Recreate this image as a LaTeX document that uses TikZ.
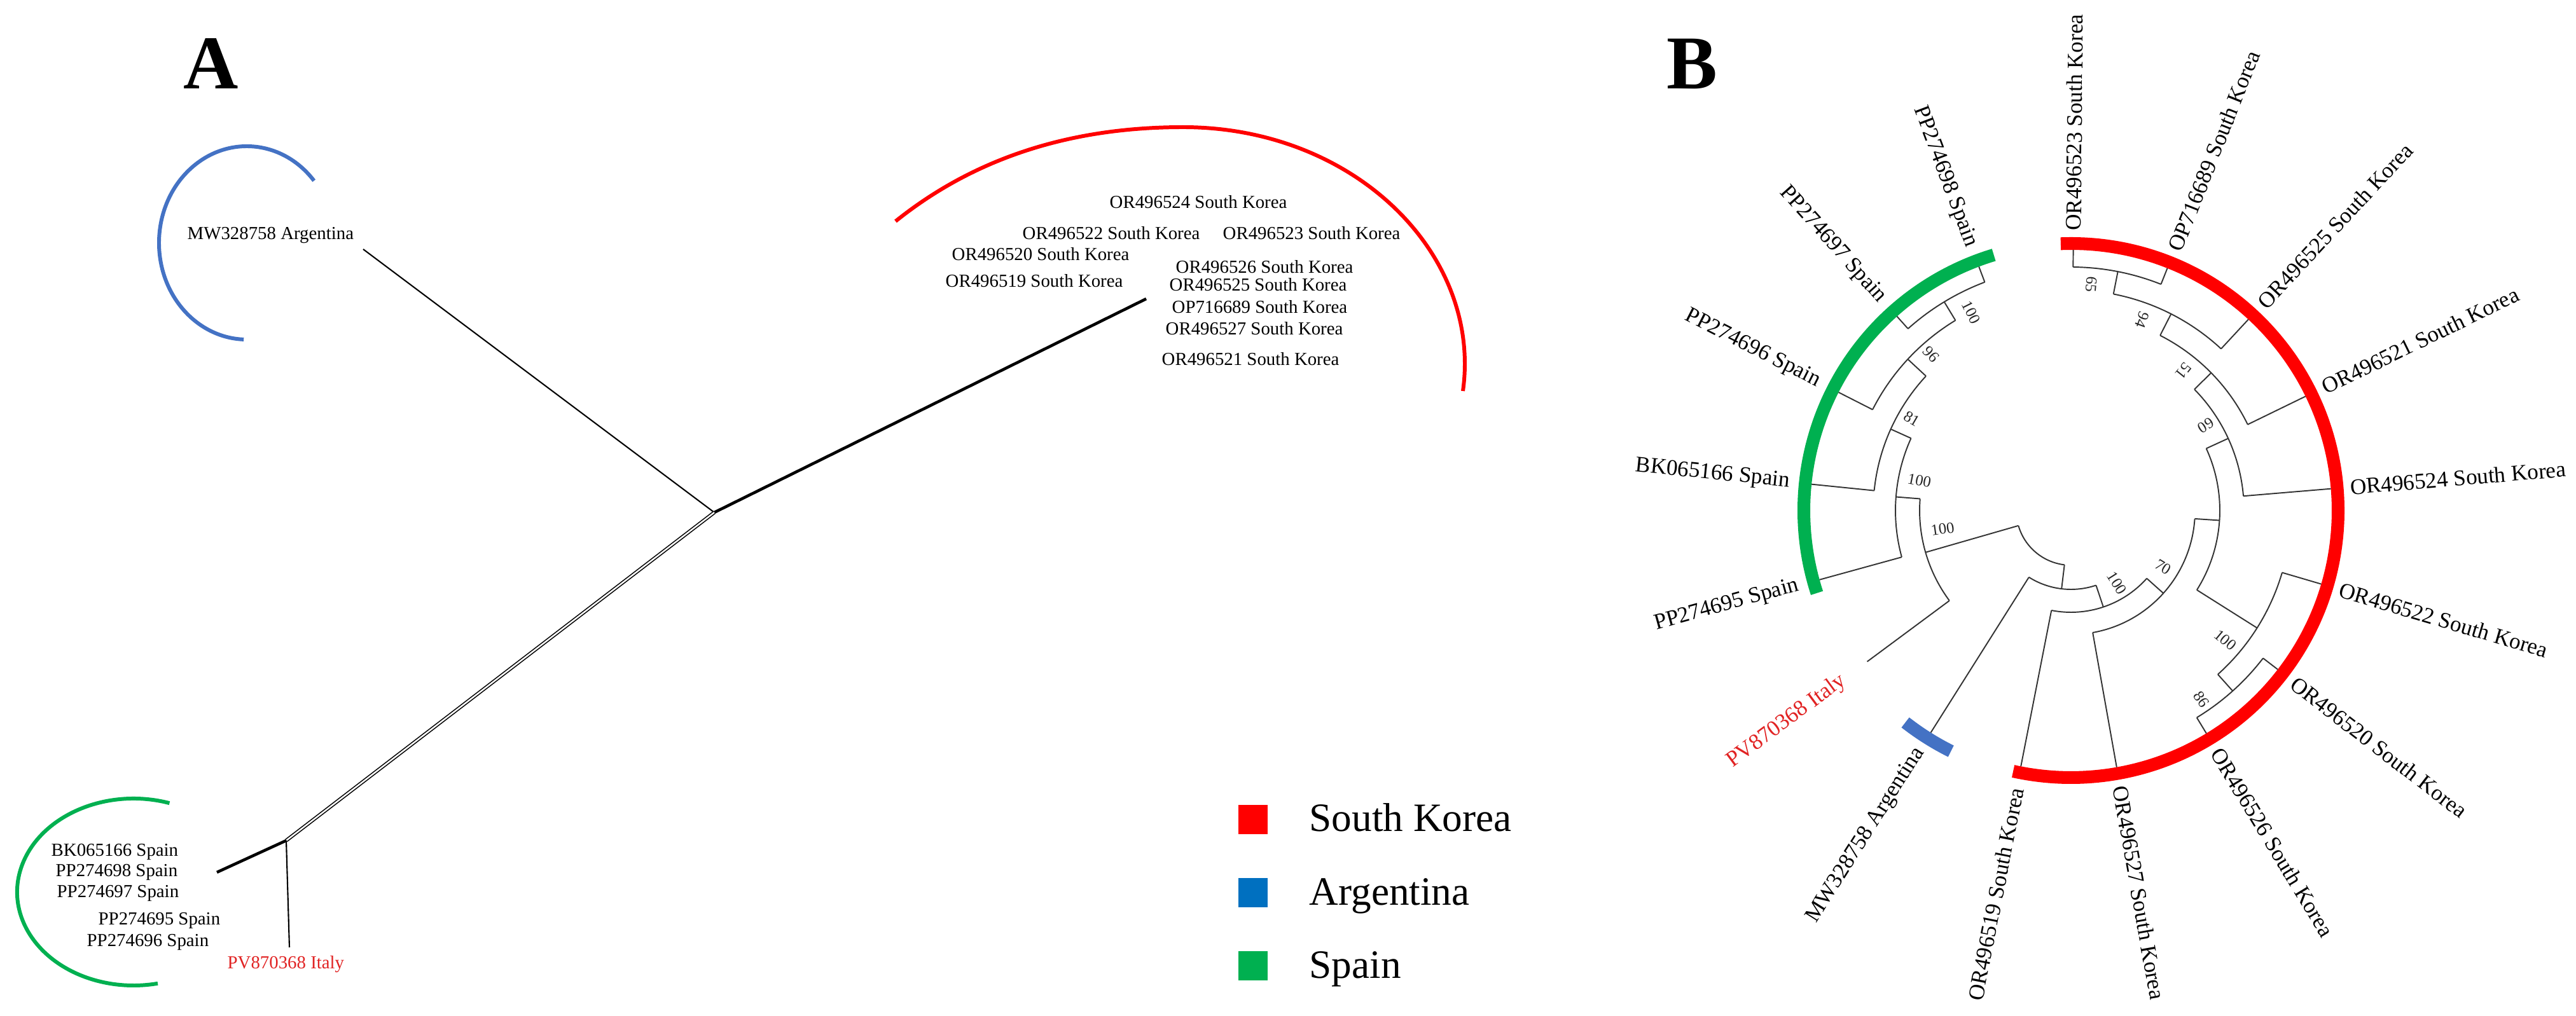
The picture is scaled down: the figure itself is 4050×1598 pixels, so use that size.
\documentclass[tikz,border=0pt]{standalone}
\usepackage{fontspec}
\setmainfont{Liberation Serif}
\definecolor{skred}{RGB}{255,0,0}
\definecolor{arblue}{RGB}{68,114,196}
\definecolor{legblue}{RGB}{0,112,192}
\definecolor{spgreen}{RGB}{0,176,80}
\definecolor{itred}{RGB}{225,35,35}
\newcommand{\joinnode}[5]{%
  \draw[branch] (#2:#1) -- (#3);
  \draw[branch] (#4:#1) -- (#5);
  \draw[branch] (#2:#1) arc[start angle=#2, end angle=#4, radius=#1];
}
\begin{document}
\begin{tikzpicture}[x=0.01cm,y=0.01cm,
  lblA/.style={font=\fontsize{8.2}{9}\selectfont, inner sep=0pt, anchor=west},
  lblB/.style={font=\fontsize{10}{12}\selectfont, inner sep=0pt},
  bsv/.style={font=\fontsize{7}{8}\selectfont, inner sep=0pt, text=black!85},
  branch/.style={line width=0.55pt, black!80},
  treeline/.style={line width=0.6pt, black},
  boldline/.style={line width=1.3pt, black},
  dblline/.style={line width=0.45pt, double=white, double distance=0.7pt, black},
  cladearc/.style={line width=1.7pt},
  ring/.style={line width=5.7pt},
  legsq/.style={minimum size=0.46cm, inner sep=0pt},
  legtxt/.style={font=\fontsize{18}{21}\selectfont, inner sep=0pt, anchor=base west},
  panel/.style={font=\fontsize{34}{40}\selectfont\bfseries, inner sep=0pt, anchor=base}
]
\useasboundingbox (0,0) rectangle (4050,-1598);
\fill[white] (0,0) rectangle (4050,-1598);

% ---------------- Panel A ----------------
\node[panel] (labA) at (332,-140) {A};

% clade arcs
\draw[cladearc, arblue] (493.7,-284.3) arc[start angle=40, end angle=268, x radius=138, y radius=152];
\draw[cladearc, skred] (1408,-348) .. controls (1530,-250) and (1680,-200) .. (1860,-200)
   .. controls (2130,-200) and (2330,-400) .. (2300,-615);
\draw[cladearc, spgreen] (266.5,-1263.2) arc[start angle=72, end angle=282, x radius=183, y radius=147];

% tree nodes
\coordinate (mwend) at (571,-392);
\coordinate (J1) at (1123,-806);
\coordinate (SK) at (1802,-470);
\coordinate (J2) at (450,-1322);
\coordinate (SP) at (341,-1372);
\coordinate (ITend) at (455,-1490);

\draw[treeline] (mwend) -- (J1);
\draw[boldline] (J1) -- (SK);
\draw[dblline] (J1) -- (J2);
\draw[boldline] (J2) -- (SP);
\draw[treeline] (J2) -- (ITend);

% SK spokes
\foreach \p [count=\i] in {(1795,-427),(1790,-438),(1825,-455),(1833,-463),(1833,-475),(1830,-483),(1829,-502),(1810,-512)}{
  \coordinate (s\i) at \p;
  \draw[treeline] (SK) -- (s\i);
}
% Spain spokes
\foreach \p [count=\i] in {(297,-1360),(308,-1387),(313,-1390),(330,-1415)}{
  \coordinate (p\i) at \p;
  \draw[treeline] (SP) -- (p\i);
}

% labels A
\node[lblA] (aMW) at (294,-370) {MW328758 Argentina};
\node[lblA] (a524) at (1744,-318) {OR496524 South Korea};
\node[lblA] (a522) at (1607,-367) {OR496522 South Korea};
\node[lblA] (a523) at (1922,-367) {OR496523 South Korea};
\node[lblA] (a520) at (1496,-400) {OR496520 South Korea};
\node[lblA] (a519) at (1486,-442) {OR496519 South Korea};
\node[lblA] (a526) at (1848,-420) {OR496526 South Korea};
\node[lblA] (a525) at (1838,-448) {OR496525 South Korea};
\node[lblA] (a689) at (1842,-483) {OP716689 South Korea};
\node[lblA] (a527) at (1832,-517) {OR496527 South Korea};
\node[lblA] (a521) at (1826,-565) {OR496521 South Korea};
\node[lblA] (aBK) at (80,-1340) {BK065166 Spain};
\node[lblA] (a698) at (87,-1372) {PP274698 Spain};
\node[lblA] (a697) at (89,-1405) {PP274697 Spain};
\node[lblA] (a695) at (154,-1448) {PP274695 Spain};
\node[lblA] (a696) at (136,-1482) {PP274696 Spain};
\node[lblA, text=itred] (aIT) at (357,-1517) {PV870368 Italy};

% legend
\node[legsq, fill=skred] (lsq1) at (1970,-1289) {};
\node[legsq, fill=legblue] (lsq2) at (1970,-1404) {};
\node[legsq, fill=spgreen] (lsq3) at (1970,-1519) {};
\node[legtxt] (lt1) at (2058,-1308) {South Korea};
\node[legtxt] (lt2) at (2058,-1423) {Argentina};
\node[legtxt] (lt3) at (2058,-1538) {Spain};

% ---------------- Panel B ----------------
\node[panel] (labB) at (2660,-140) {B};

\begin{scope}[shift={(3256,-803)}]
  % rings
  \draw[ring, skred] (92.2:420) arc[start angle=92.2, end angle=-102.5, radius=420];
  \draw[ring, spgreen] (106.8:420) arc[start angle=106.8, end angle=198, radius=420];
  \draw[ring, arblue] (-128:423) arc[start angle=-128, end angle=-116.5, radius=423];

  % tips
  \coordinate (t0) at (89.5:410);
  \coordinate (t1) at (68.32:410);
  \coordinate (t2) at (47.15:410);
  \coordinate (t3) at (25.97:410);
  \coordinate (t4) at (4.80:410);
  \coordinate (t5) at (-16.38:410);
  \coordinate (t6) at (-37.56:410);
  \coordinate (t7) at (-58.73:410);
  \coordinate (t8) at (-79.91:410);
  \coordinate (t9) at (-101.08:410);
  \coordinate (t10) at (-122.26:413);
  \coordinate (t11) at (-143.44:399);
  \coordinate (t12) at (195.39:410);
  \coordinate (t13) at (174.21:410);
  \coordinate (t14) at (153.03:410);
  \coordinate (t15) at (131.86:410);
  \coordinate (t16) at (110.68:410);
  % internal nodes
  \coordinate (n1) at (78.91:383);
  \coordinate (n2) at (63.03:347);
  \coordinate (n3) at (44.5:309);
  \coordinate (n4) at (24.65:272);
  \coordinate (n8) at (-48.145:381);
  \coordinate (n7) at (-32.26:346);
  \coordinate (n5) at (-3.8:234);
  \coordinate (n9) at (-41.86:195);
  \coordinate (n10) at (-71.47:160);
  \coordinate (n11) at (-96.87:124);
  \coordinate (S4) at (121.27:384);
  \coordinate (S3) at (137.15:350);
  \coordinate (S2) at (155.68:311);
  \coordinate (S1) at (175.54:276);
  \coordinate (n13) at (196.05:238);

  \joinnode{383}{89.5}{t0}{68.32}{t1}
  \joinnode{347}{78.91}{n1}{47.15}{t2}
  \joinnode{309}{63.03}{n2}{25.97}{t3}
  \joinnode{272}{44.5}{n3}{4.80}{t4}
  \joinnode{381}{-37.56}{t6}{-58.73}{t7}
  \joinnode{346}{-16.38}{t5}{-48.145}{n8}
  \joinnode{234}{24.65}{n4}{-32.26}{n7}
  \joinnode{195}{-3.8}{n5}{-79.91}{t8}
  \joinnode{160}{-41.86}{n9}{-101.08}{t9}
  \joinnode{124}{-71.47}{n10}{-122.26}{t10}
  \joinnode{384}{110.68}{t16}{131.86}{t15}
  \joinnode{350}{121.27}{S4}{153.03}{t14}
  \joinnode{311}{137.15}{S3}{174.21}{t13}
  \joinnode{276}{155.68}{S2}{195.39}{t12}
  \joinnode{238}{175.54}{S1}{216.56}{t11}
  \joinnode{86}{196.05}{n13}{263.13}{n11}

  % tip labels
  \node[lblB, anchor=west, rotate=89.5] (L0) at (89.5:440) {OR496523 South Korea};
  \node[lblB, anchor=west, rotate=68.32] (L1) at (68.32:440) {OP716689 South Korea};
  \node[lblB, anchor=west, rotate=47.15] (L2) at (47.15:440) {OR496525 South Korea};
  \node[lblB, anchor=west, rotate=25.97] (L3) at (25.97:440) {OR496521 South Korea};
  \node[lblB, anchor=west, rotate=4.80] (L4) at (4.80:440) {OR496524 South Korea};
  \node[lblB, anchor=west, rotate=-16.38] (L5) at (-16.38:440) {OR496522 South Korea};
  \node[lblB, anchor=west, rotate=-37.56] (L6) at (-37.56:440) {OR496520 South Korea};
  \node[lblB, anchor=west, rotate=-58.73] (L7) at (-58.73:440) {OR496526 South Korea};
  \node[lblB, anchor=west, rotate=-79.91] (L8) at (-79.91:440) {OR496527 South Korea};
  \node[lblB, anchor=east, rotate=78.92] (L9) at (-101.08:444) {OR496519 South Korea};
  \node[lblB, anchor=east, rotate=57.74] (L10) at (-122.26:444) {MW328758 Argentina};
  \node[lblB, anchor=east, rotate=36.56, text=itred] (L11) at (-143.44:444) {PV870368 Italy};
  \node[lblB, anchor=east, rotate=15.39] (L12) at (195.39:444) {PP274695 Spain};
  \node[lblB, anchor=east, rotate=-5.79] (L13) at (174.21:444) {BK065166 Spain};
  \node[lblB, anchor=east, rotate=-26.97] (L14) at (153.03:444) {PP274696 Spain};
  \node[lblB, anchor=east, rotate=-48.14] (L15) at (131.86:444) {PP274697 Spain};
  \node[lblB, anchor=east, rotate=-69.32] (L16) at (110.68:444) {PP274698 Spain};

  % bootstrap values
  \node[bsv, rotate=-95] (b1) at (84.9:357) {65};
  \node[bsv, rotate=-110.5] (b2) at (69.5:320) {94};
  \node[bsv, rotate=-128.8] (b3) at (51.2:282) {51};
  \node[bsv, rotate=-147.7] (b4) at (32.3:251) {60};
  \node[bsv, rotate=-40] (b5) at (-40:317) {100};
  \node[bsv, rotate=-55.4] (b6) at (-55.4:361) {86};
  \node[bsv, rotate=-31.5] (b7) at (-31.5:170) {70};
  \node[bsv, rotate=-57.7] (b8) at (-57.7:135) {100};
  \node[bsv, rotate=-63.3] (b9) at (116.7:349) {100};
  \node[bsv, rotate=-48.2] (b10) at (131.8:330) {96};
  \node[bsv, rotate=-30] (b11) at (150:289) {81};
  \node[bsv, rotate=-11.2] (b12) at (168.8:243) {100};
  \node[bsv, rotate=8.2] (b13) at (188.2:204) {100};
\end{scope}
\end{tikzpicture}
\end{document}
